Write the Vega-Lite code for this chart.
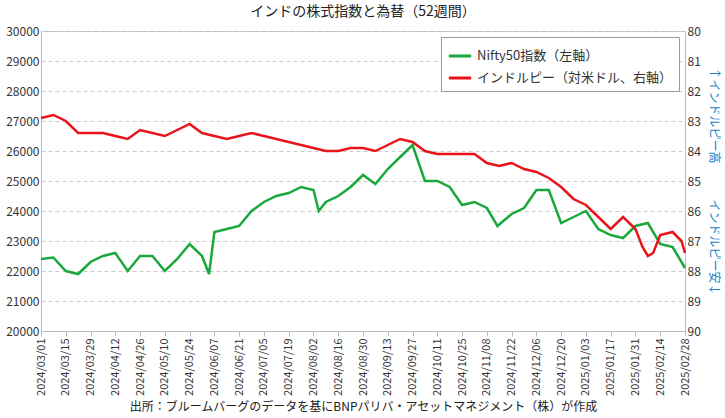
{
  "$schema": "https://vega.github.io/schema/vega-lite/v6.json",
  "width": 725,
  "height": 418,
  "autosize": {"type": "fit", "contains": "padding"},
  "background": "white",
  "config": {"font": "Noto Sans CJK JP", "view": {"stroke": "#bbbbbb"}},
  "title": {"text": "インドの株式指数と為替（52週間）", "fontSize": 14, "fontWeight": "normal", "color": "#222", "offset": 6},
  "datasets": {
    "nifty": [
      {"d": "2024-03-01", "v": 22400}, {"d": "2024-03-08", "v": 22450}, {"d": "2024-03-15", "v": 22000}, {"d": "2024-03-22", "v": 21900},
      {"d": "2024-03-29", "v": 22300}, {"d": "2024-04-05", "v": 22500}, {"d": "2024-04-12", "v": 22600}, {"d": "2024-04-19", "v": 22000},
      {"d": "2024-04-26", "v": 22500}, {"d": "2024-05-03", "v": 22500}, {"d": "2024-05-10", "v": 22000}, {"d": "2024-05-17", "v": 22400},
      {"d": "2024-05-24", "v": 22900}, {"d": "2024-05-31", "v": 22500}, {"d": "2024-06-04", "v": 21900}, {"d": "2024-06-07", "v": 23300},
      {"d": "2024-06-14", "v": 23400}, {"d": "2024-06-21", "v": 23500}, {"d": "2024-06-28", "v": 24000}, {"d": "2024-07-05", "v": 24300},
      {"d": "2024-07-12", "v": 24500}, {"d": "2024-07-19", "v": 24600}, {"d": "2024-07-26", "v": 24800}, {"d": "2024-08-02", "v": 24700},
      {"d": "2024-08-05", "v": 24000}, {"d": "2024-08-09", "v": 24300}, {"d": "2024-08-16", "v": 24500}, {"d": "2024-08-23", "v": 24800},
      {"d": "2024-08-30", "v": 25200}, {"d": "2024-09-06", "v": 24900}, {"d": "2024-09-13", "v": 25400}, {"d": "2024-09-20", "v": 25800},
      {"d": "2024-09-27", "v": 26200}, {"d": "2024-10-04", "v": 25000}, {"d": "2024-10-11", "v": 25000}, {"d": "2024-10-18", "v": 24800},
      {"d": "2024-10-25", "v": 24200}, {"d": "2024-11-01", "v": 24300}, {"d": "2024-11-08", "v": 24100}, {"d": "2024-11-14", "v": 23500},
      {"d": "2024-11-22", "v": 23900}, {"d": "2024-11-29", "v": 24100}, {"d": "2024-12-06", "v": 24700}, {"d": "2024-12-13", "v": 24700},
      {"d": "2024-12-20", "v": 23600}, {"d": "2024-12-27", "v": 23800}, {"d": "2025-01-03", "v": 24000}, {"d": "2025-01-10", "v": 23400},
      {"d": "2025-01-17", "v": 23200}, {"d": "2025-01-24", "v": 23100}, {"d": "2025-01-31", "v": 23500}, {"d": "2025-02-07", "v": 23600},
      {"d": "2025-02-14", "v": 22900}, {"d": "2025-02-21", "v": 22800}, {"d": "2025-02-28", "v": 22100}
    ],
    "inr": [
      {"d": "2024-03-01", "v": 82.9}, {"d": "2024-03-08", "v": 82.8}, {"d": "2024-03-15", "v": 83.0}, {"d": "2024-03-22", "v": 83.4},
      {"d": "2024-03-29", "v": 83.4}, {"d": "2024-04-05", "v": 83.4}, {"d": "2024-04-12", "v": 83.5}, {"d": "2024-04-19", "v": 83.6},
      {"d": "2024-04-26", "v": 83.3}, {"d": "2024-05-03", "v": 83.4}, {"d": "2024-05-10", "v": 83.5}, {"d": "2024-05-17", "v": 83.3},
      {"d": "2024-05-24", "v": 83.1}, {"d": "2024-05-31", "v": 83.4}, {"d": "2024-06-07", "v": 83.5}, {"d": "2024-06-14", "v": 83.6},
      {"d": "2024-06-21", "v": 83.5}, {"d": "2024-06-28", "v": 83.4}, {"d": "2024-07-05", "v": 83.5}, {"d": "2024-07-12", "v": 83.6},
      {"d": "2024-07-19", "v": 83.7}, {"d": "2024-07-26", "v": 83.8}, {"d": "2024-08-02", "v": 83.9}, {"d": "2024-08-09", "v": 84.0},
      {"d": "2024-08-16", "v": 84.0}, {"d": "2024-08-23", "v": 83.9}, {"d": "2024-08-30", "v": 83.9}, {"d": "2024-09-06", "v": 84.0},
      {"d": "2024-09-13", "v": 83.8}, {"d": "2024-09-20", "v": 83.6}, {"d": "2024-09-27", "v": 83.7}, {"d": "2024-10-04", "v": 84.0},
      {"d": "2024-10-11", "v": 84.1}, {"d": "2024-10-18", "v": 84.1}, {"d": "2024-10-25", "v": 84.1}, {"d": "2024-11-01", "v": 84.1},
      {"d": "2024-11-08", "v": 84.4}, {"d": "2024-11-15", "v": 84.5}, {"d": "2024-11-22", "v": 84.4}, {"d": "2024-11-29", "v": 84.6},
      {"d": "2024-12-06", "v": 84.7}, {"d": "2024-12-13", "v": 84.9}, {"d": "2024-12-20", "v": 85.2}, {"d": "2024-12-27", "v": 85.6},
      {"d": "2025-01-03", "v": 85.8}, {"d": "2025-01-10", "v": 86.2}, {"d": "2025-01-17", "v": 86.6}, {"d": "2025-01-24", "v": 86.2},
      {"d": "2025-01-31", "v": 86.6}, {"d": "2025-02-04", "v": 87.2}, {"d": "2025-02-07", "v": 87.5}, {"d": "2025-02-10", "v": 87.4},
      {"d": "2025-02-14", "v": 86.8}, {"d": "2025-02-21", "v": 86.7}, {"d": "2025-02-26", "v": 87.0}, {"d": "2025-02-28", "v": 87.4}
    ]
  },
  "encoding": {
    "x": {
      "field": "d", "type": "temporal",
      "scale": {"domain": ["2024-03-01", "2025-02-28"]},
      "axis": {
        "values": ["2024-03-01","2024-03-15","2024-03-29","2024-04-12","2024-04-26","2024-05-10","2024-05-24","2024-06-07","2024-06-21","2024-07-05","2024-07-19","2024-08-02","2024-08-16","2024-08-30","2024-09-13","2024-09-27","2024-10-11","2024-10-25","2024-11-08","2024-11-22","2024-12-06","2024-12-20","2025-01-03","2025-01-17","2025-01-31","2025-02-14","2025-02-28"],
        "format": "%Y/%m/%d", "labelAngle": -90, "labelFontSize": 11, "labelColor": "#333", "labelOverlap": false,
        "grid": false, "domainColor": "#bbb", "tickColor": "#bbb",
        "title": "出所：ブルームバーグのデータを基にBNPパリバ・アセットマネジメント（株）が作成",
        "titleFontSize": 12, "titleFontWeight": "normal", "titleColor": "#222", "titlePadding": 6
      }
    },
    "y": {"field": "v", "type": "quantitative"},
    "color": {
      "field": "s", "type": "nominal",
      "scale": {"domain": ["Nifty50指数（左軸）", "インドルピー（対米ドル、右軸）"], "range": ["#1aa83c", "#e8141a"]},
      "legend": {"orient": "top-right", "title": null, "symbolType": "stroke", "symbolStrokeWidth": 3, "symbolSize": 500,
        "labelFontSize": 13, "labelLimit": 400, "labelColor": "#333", "strokeColor": "#999", "padding": 6, "fillColor": "white", "offset": 6}
    }
  },
  "layer": [
    {
      "data": {"name": "nifty"},
      "transform": [{"calculate": "'Nifty50指数（左軸）'", "as": "s"}],
      "mark": {"type": "line", "strokeWidth": 2.5},
      "encoding": {
        "y": {"field": "v", "type": "quantitative", "scale": {"domain": [20000, 30000]},
          "axis": {"title": null, "format": "d", "labelOverlap": false, "values": [20000,21000,22000,23000,24000,25000,26000,27000,28000,29000,30000], "gridDash": [4, 3], "gridColor": "#ccc", "domain": false, "ticks": false, "labelFontSize": 12, "labelColor": "#333"}}
      }
    },
    {
      "data": {"name": "inr"},
      "transform": [{"calculate": "'インドルピー（対米ドル、右軸）'", "as": "s"}],
      "mark": {"type": "line", "strokeWidth": 2.5},
      "encoding": {
        "y": {"field": "v", "type": "quantitative", "scale": {"domain": [80, 90], "reverse": true},
          "axis": {"orient": "right", "grid": false, "domain": false, "ticks": false, "labelOverlap": false, "values": [80,81,82,83,84,85,86,87,88,89,90], "labelFontSize": 12, "labelColor": "#333",
            "title": "↑インドルピー高　　　インドルピー安↓", "titleColor": "#1a7fc4", "titleFontWeight": "normal", "titleFontSize": 12, "titleAngle": 90, "titlePadding": 6}}
      }
    }
  ],
  "resolve": {"scale": {"y": "independent"}}
}
